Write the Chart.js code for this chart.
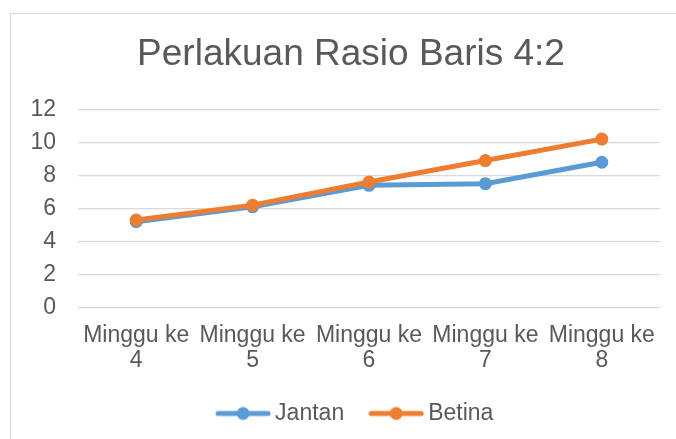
<!DOCTYPE html>
<html>
<head>
<meta charset="utf-8">
<script src="https://cdn.jsdelivr.net/npm/chart.js"></script>
<style>
  body { margin: 0; background: #fff; }
  #frame { position: absolute; left: 10px; top: 13px; width: 700px; height: 460px; border: 1px solid #d9d9d9; }
  #wrap { position: absolute; left: 0; top: 0; width: 676px; height: 439px; }
</style>
</head>
<body>
<div id="frame"></div>
<div id="wrap"><canvas id="myChart" width="676" height="439"></canvas></div>

<script>
  // data
  const titleText = 'Perlakuan Rasio Baris 4:2'
  const labels = [['Minggu ke', '4'], ['Minggu ke', '5'], ['Minggu ke', '6'], ['Minggu ke', '7'], ['Minggu ke', '8']]
  const jantan = [5.2, 6.1, 7.4, 7.5, 8.8]
  const betina = [5.3, 6.2, 7.6, 8.9, 10.2]
  const yTicks = [0, 2, 4, 6, 8, 10, 12]

  const blue = '#5b9bd5'
  const orange = '#ed7d31'
  const textColor = '#595959'
  const fontFamily = '"Liberation Sans", Arial, sans-serif'

  // legend symbol: short line with a dot in the middle, like excel
  function legendSymbol(color) {
    const c = document.createElement('canvas')
    c.width = 56
    c.height = 16
    const g = c.getContext('2d')
    g.strokeStyle = color
    g.lineWidth = 5
    g.lineCap = 'round'
    g.beginPath()
    g.moveTo(3, 8)
    g.lineTo(53, 8)
    g.stroke()
    g.fillStyle = color
    g.beginPath()
    g.arc(28, 8, 6.5, 0, Math.PI * 2)
    g.fill()
    return c
  }

  const symbols = [legendSymbol(blue), legendSymbol(orange)]

  // excel does not centre title / legend on the plot, nudge them right
  const boxShift = {
    id: 'boxShift',
    afterLayout: (chart) => {
      chart.legend.left += 28
      chart.legend.right += 28
      chart.titleBlock.left += 21
      chart.titleBlock.right += 21
    }
  }

  const ctx = document.getElementById('myChart')

  new Chart(ctx, {
    type: 'line',
    data: {
      labels: labels,
      datasets: [{
        label: 'Jantan',
        data: jantan,
        borderColor: blue,
        backgroundColor: blue,
        borderWidth: 5,
        pointRadius: 6.5,
        pointBorderWidth: 0,
        tension: 0,
        order: 1
      },
      {
        label: 'Betina',
        data: betina,
        borderColor: orange,
        backgroundColor: orange,
        borderWidth: 5,
        pointRadius: 6.5,
        pointBorderWidth: 0,
        tension: 0,
        order: 0
      }]
    },
    options: {
      responsive: false,
      animation: false,
      layout: {
        padding: { top: 0, left: 0, right: 16, bottom: 4 }
      },
      scales: {
        x: {
          offset: true,
          grid: { display: false, drawTicks: false },
          border: { display: false },
          ticks: {
            color: textColor,
            font: { family: fontFamily, size: 23, lineHeight: 1.08 },
            padding: 16,
            maxRotation: 0,
            autoSkip: false
          },
          afterFit: (axis) => { axis.height = 63 }
        },
        y: {
          min: 0,
          max: 12,
          afterBuildTicks: (axis) => { axis.ticks = yTicks.map(v => ({ value: v })) },
          grid: { color: '#d9d9d9', lineWidth: 1.3, drawTicks: false },
          border: { display: false },
          ticks: {
            color: textColor,
            font: { family: fontFamily, size: 23 },
            padding: 22
          },
          afterFit: (axis) => { axis.width = 78 }
        }
      },
      plugins: {
        title: {
          display: true,
          text: titleText,
          color: textColor,
          font: { family: fontFamily, size: 37, weight: 'normal' },
          padding: { top: 33, bottom: 32 }
        },
        legend: {
          position: 'bottom',
          labels: {
            color: textColor,
            font: { family: fontFamily, size: 23 },
            usePointStyle: true,
            pointStyleWidth: 41,
            padding: 31.5,
            sort: (a, b) => a.datasetIndex - b.datasetIndex,
            generateLabels: (chart) => {
              const items = Chart.defaults.plugins.legend.labels.generateLabels(chart)
              items.forEach(it => { it.pointStyle = symbols[it.datasetIndex] })
              return items
            }
          }
        },
        tooltip: { enabled: false }
      }
    },
    plugins: [boxShift]
  })
</script>
</body>
</html>
